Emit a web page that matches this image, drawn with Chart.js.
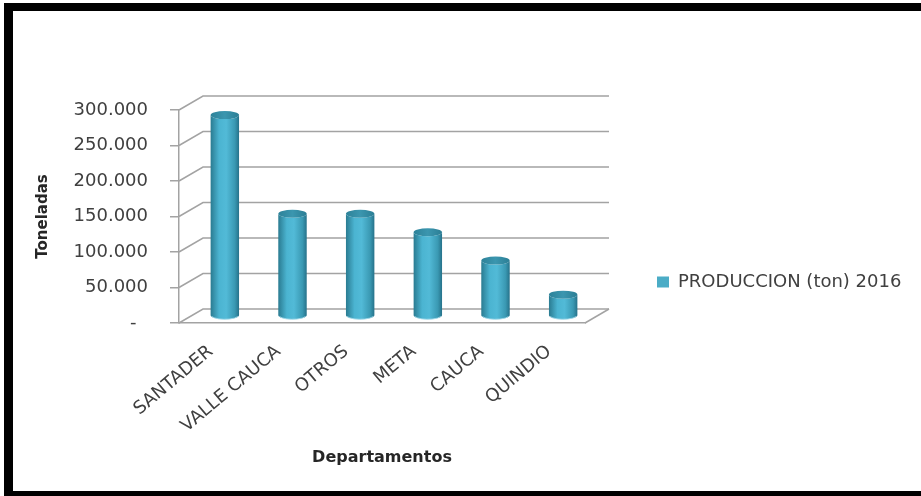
<!DOCTYPE html>
<html>
<head>
<meta charset="utf-8">
<script src="https://cdn.jsdelivr.net/npm/chart.js@4.4.1/dist/chart.umd.min.js"></script>
<style>
  html, body { margin: 0; padding: 0; background: #fff; overflow: hidden; }
  #frame {
    position: absolute; left: 4px; top: 3px; right: -20px; bottom: 0;
    border-top: 8px solid #000; border-left: 9px solid #000; border-bottom: 5px solid #000;
  }
  #chart { position: absolute; left: 0; top: 0; }
</style>
</head>
<body>
<div id="frame"></div>
<canvas id="chart" width="921" height="496"></canvas>
<script>
const departamentos = ['SANTADER', 'VALLE CAUCA', 'OTROS', 'META', 'CAUCA', 'QUINDIO'];
const produccion2016 = [283000, 144000, 144000, 118000, 78000, 30000];
const serieLabel = 'PRODUCCION (ton) 2016';
const yMax = 300000;
const yStep = 50000;

// depth of the 3D box (back wall offset)
const DEPTH_X = 24;
const DEPTH_Y = 14;
const GRID = '#a3a3a3';
const TEXT = '#404040';
const FONT = 'DejaVu Sans';

// 300000 -> "300.000", 0 -> "-" like the accounting format
function miles(v) {
  if (v === 0) return '-  ';
  return String(v).replace(/\B(?=(\d{3})+(?!\d))/g, '.');
}

function drawCylinder(ctx, cx, top, bottom, rx, ry) {
  const body = ctx.createLinearGradient(cx - rx, 0, cx + rx, 0);
  body.addColorStop(0, '#2a7b91');
  body.addColorStop(0.3, '#4bb4d1');
  body.addColorStop(0.55, '#52bad7');
  body.addColorStop(0.85, '#3a99b3');
  body.addColorStop(1, '#26728a');
  ctx.fillStyle = body;
  ctx.beginPath();
  ctx.moveTo(cx - rx, top);
  ctx.lineTo(cx - rx, bottom);
  ctx.ellipse(cx, bottom, rx, ry, 0, Math.PI, 0, true);
  ctx.lineTo(cx + rx, top);
  ctx.ellipse(cx, top, rx, ry, 0, 0, Math.PI, false);
  ctx.closePath();
  ctx.fill();

  // light rim at the base
  ctx.strokeStyle = 'rgba(160,215,232,0.9)';
  ctx.lineWidth = 1;
  ctx.beginPath();
  ctx.ellipse(cx, bottom, rx - 0.5, ry, 0, Math.PI * 0.9, Math.PI * 0.1, true);
  ctx.stroke();

  // top cap
  const cap = ctx.createLinearGradient(cx - rx, 0, cx + rx, 0);
  cap.addColorStop(0, '#2d8299');
  cap.addColorStop(0.5, '#3b96af');
  cap.addColorStop(1, '#2b7e95');
  ctx.fillStyle = cap;
  ctx.beginPath();
  ctx.ellipse(cx, top, rx, ry, 0, 0, Math.PI * 2);
  ctx.fill();
}

const box3d = {
  id: 'box3d',
  beforeDatasetsDraw(chart) {
    const { ctx, chartArea: a } = chart;
    const y = chart.scales.y;
    ctx.save();
    ctx.strokeStyle = GRID;
    ctx.lineWidth = 1.5;
    // side slants + back wall gridlines
    y.ticks.forEach(t => {
      const py = y.getPixelForValue(t.value);
      ctx.beginPath();
      ctx.moveTo(a.left, py);
      ctx.lineTo(a.left + DEPTH_X, py - DEPTH_Y);
      ctx.lineTo(a.right + DEPTH_X, py - DEPTH_Y);
      ctx.stroke();
    });
    // floor right edge
    ctx.beginPath();
    ctx.moveTo(a.right, a.bottom);
    ctx.lineTo(a.right + DEPTH_X, a.bottom - DEPTH_Y);
    ctx.stroke();

    // bars as cylinders sitting halfway into the depth
    const meta = chart.getDatasetMeta(0);
    meta.data.forEach(bar => {
      const p = bar.getProps(['x', 'y', 'base', 'width'], true);
      drawCylinder(ctx, p.x + DEPTH_X / 2, p.y - DEPTH_Y / 2, p.base - DEPTH_Y / 2, p.width / 2, 4);
    });
    ctx.restore();
    return false;
  }
};

new Chart(document.getElementById('chart'), {
  type: 'bar',
  data: {
    labels: departamentos,
    datasets: [{
      label: serieLabel,
      data: produccion2016,
      backgroundColor: '#4bacc6',
      barPercentage: 0.42,
      categoryPercentage: 1
    }]
  },
  options: {
    responsive: false,
    animation: false,
    devicePixelRatio: 1,
    layout: { padding: { left: 20, top: 110, right: 10, bottom: 42 } },
    plugins: {
      legend: {
        position: 'right',
        maxWidth: 326,
        labels: {
          boxWidth: 12,
          boxHeight: 11,
          padding: 72,
          color: TEXT,
          font: { family: FONT, size: 18 }
        }
      },
      tooltip: { enabled: false }
    },
    scales: {
      x: {
        grid: { display: false },
        border: { display: true, color: GRID, width: 1.5 },
        ticks: {
          color: TEXT,
          font: { family: FONT, size: 18 },
          minRotation: 40,
          maxRotation: 40,
          autoSkip: false,
          padding: 10,
          labelOffset: -2
        },
        title: {
          display: true,
          text: 'Departamentos',
          color: '#262626',
          font: { family: FONT, size: 16, weight: 'bold' },
          padding: { top: 0, bottom: -13 }
        },
        afterFit(s) { s.height = 131; }
      },
      y: {
        min: 0,
        max: yMax,
        grid: { drawOnChartArea: false, tickLength: 9, color: GRID, lineWidth: 1.5 },
        border: { display: true, color: GRID, width: 1.5 },
        ticks: {
          stepSize: yStep,
          color: TEXT,
          font: { family: FONT, size: 18 },
          padding: 22,
          callback: v => miles(v)
        },
        title: {
          display: true,
          text: 'Toneladas',
          color: '#262626',
          font: { family: FONT, size: 15, weight: 'bold' },
          padding: { top: 14, bottom: 0 }
        },
        afterFit(s) { s.width = 159; }
      }
    }
  },
  plugins: [box3d]
});
</script>
</body>
</html>
